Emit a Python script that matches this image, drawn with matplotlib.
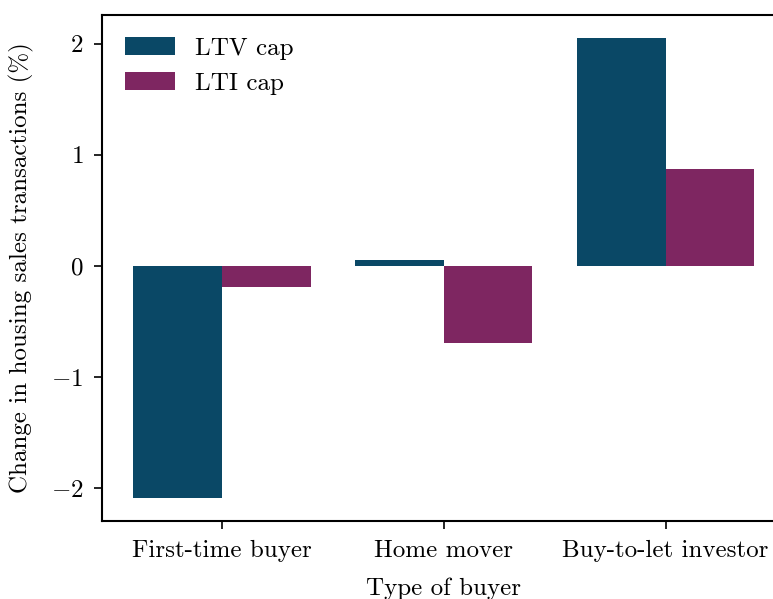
import matplotlib
matplotlib.use('Agg')
import matplotlib.pyplot as plt
import numpy as np

# values
buyer_types = ['First-time buyer', 'Home mover', 'Buy-to-let investor']
ltv_cap = [-2.09, 0.05, 2.05]
lti_cap = [-0.19, -0.69, 0.87]
series_names = ['LTV cap', 'LTI cap']
series_colors = ['#0A4866', '#7E2661']

plt.rcParams['font.family'] = ['cmr10', 'DejaVu Serif']
plt.rcParams['mathtext.fontset'] = 'cm'
plt.rcParams['axes.formatter.use_mathtext'] = True
plt.rcParams['axes.unicode_minus'] = True
plt.rcParams['font.size'] = 18

fig = plt.figure(figsize=(7.73, 5.99), dpi=100)
ax = fig.add_axes([0.132, 0.130, 0.884, 0.845])

x = np.arange(len(buyer_types))
width = 0.4
ax.bar(x - width / 2, ltv_cap, width, color=series_colors[0], label=series_names[0])
ax.bar(x + width / 2, lti_cap, width, color=series_colors[1], label=series_names[1])

ax.set_xticks(x)
ax.set_xticklabels(buyer_types)
ax.set_yticks([-2, -1, 0, 1, 2])
ax.tick_params(labelsize=18, width=1.2, length=5.5, pad=8)
for sp in ax.spines.values():
    sp.set_linewidth(1.5)

ax.set_xlabel('Type of buyer', fontsize=18, labelpad=11)
ax.set_ylabel('Change in housing sales transactions (%)', fontsize=18, labelpad=12)

ax.legend(loc='upper left', frameon=False, fontsize=18)

fig.savefig('out.png', dpi=100)
